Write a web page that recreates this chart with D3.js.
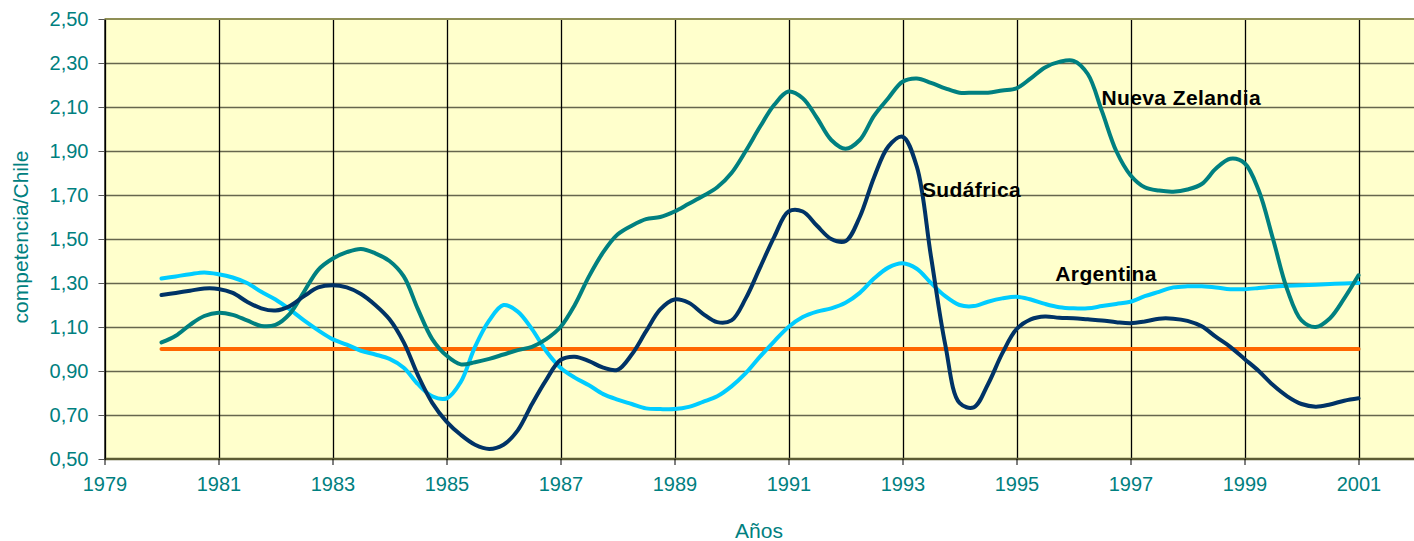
<!DOCTYPE html>
<html>
<head>
<meta charset="utf-8">
<script src="https://cdn.jsdelivr.net/npm/d3@7"></script>
<style>
  body { margin: 0; background: #fff; }
  svg text { font-family: "Liberation Sans", Arial, sans-serif; }
</style>
</head>
<body>
<script>
const w = 1414;
const h = 541;
const plotLeft = 104.5, plotTop = 19, plotBottom = 459;

// quarterly observations, first one is 1980 Q1, last one 2001 Q1
const startYear = 1980;
const nuevaZelandia = [
  1.03, 1.06, 1.11, 1.15, 1.165, 1.155, 1.13, 1.105, 1.11, 1.16, 1.26, 1.36,
  1.41, 1.44, 1.455, 1.435, 1.40, 1.33, 1.18, 1.045, 0.97, 0.93, 0.94, 0.955,
  0.975, 0.995, 1.01, 1.045, 1.10, 1.20, 1.33, 1.44, 1.52, 1.56, 1.59, 1.60,
  1.625, 1.66, 1.695, 1.735, 1.80, 1.90, 2.01, 2.11, 2.17, 2.14, 2.05, 1.95,
  1.91, 1.95, 2.06, 2.14, 2.215, 2.23, 2.21, 2.185, 2.165, 2.165, 2.165, 2.175,
  2.185, 2.23, 2.28, 2.305, 2.31, 2.25, 2.08, 1.90, 1.79, 1.735, 1.72, 1.715,
  1.725, 1.75, 1.82, 1.865, 1.845, 1.72, 1.50, 1.27, 1.13, 1.10, 1.14, 1.23,
  1.335
];
const argentina = [
  1.32, 1.33, 1.34, 1.348, 1.34, 1.325, 1.30, 1.26, 1.225, 1.18, 1.13, 1.085,
  1.045, 1.02, 0.992, 0.975, 0.955, 0.915, 0.84, 0.785, 0.775, 0.85, 1.01, 1.13,
  1.20, 1.17, 1.09, 0.99, 0.915, 0.87, 0.835, 0.795, 0.77, 0.75, 0.73, 0.727,
  0.727, 0.737, 0.76, 0.785, 0.83, 0.89, 0.965, 1.035, 1.10, 1.145, 1.17, 1.185,
  1.21, 1.255, 1.32, 1.37, 1.39, 1.365, 1.30, 1.24, 1.20, 1.195, 1.215, 1.23,
  1.238, 1.225, 1.205, 1.19, 1.185, 1.185, 1.195, 1.205, 1.215, 1.24, 1.26, 1.28,
  1.285, 1.285, 1.28, 1.272, 1.272, 1.277, 1.283, 1.287, 1.29, 1.292, 1.295, 1.298,
  1.30
];
const sudafrica = [
  1.245, 1.255, 1.265, 1.275, 1.273, 1.255, 1.215, 1.185, 1.175, 1.195, 1.24, 1.28,
  1.29, 1.28, 1.25, 1.20, 1.135, 1.03, 0.88, 0.755, 0.67, 0.61, 0.565, 0.546,
  0.565, 0.63, 0.75, 0.86, 0.95, 0.965, 0.945, 0.915, 0.905, 0.975, 1.08, 1.18,
  1.225, 1.21, 1.16, 1.122, 1.13, 1.23, 1.37, 1.51, 1.625, 1.625, 1.56, 1.50,
  1.49, 1.60, 1.78, 1.92, 1.965, 1.83, 1.42, 1.02, 0.755, 0.735, 0.84, 0.98,
  1.09, 1.135, 1.148, 1.142, 1.14, 1.135, 1.13, 1.122, 1.117, 1.125, 1.138, 1.138,
  1.128, 1.103, 1.055, 1.01, 0.955, 0.90, 0.836, 0.785, 0.75, 0.738, 0.748, 0.765,
  0.776
];
const chile = [1.00, 1.00];
const chileYears = [1980, 2001];

const xTicks = [1979, 1981, 1983, 1985, 1987, 1989, 1991, 1993, 1995, 1997, 1999, 2001];
const yTicks = [0.5, 0.7, 0.9, 1.1, 1.3, 1.5, 1.7, 1.9, 2.1, 2.3, 2.5];

const labels = [
  { text: "Nueva Zelandia", year: 1996.49, value: 2.11 },
  { text: "Sudáfrica", year: 1993.34, value: 1.692 },
  { text: "Argentina", year: 1995.68, value: 1.311 }
];

const teal = "#008080";

const xScale = d3.scaleLinear().domain([1979, 2002]).range([plotLeft, plotLeft + 23 * 57]);
const yScale = d3.scaleLinear().domain([0.5, 2.5]).range([plotBottom, plotTop]);

const svg = d3.select("body").append("svg")
  .attr("width", w)
  .attr("height", h);

// plot background
svg.append("rect")
  .attr("x", xScale(1979))
  .attr("y", yScale(2.5))
  .attr("width", xScale(2002) - xScale(1979))
  .attr("height", yScale(0.5) - yScale(2.5))
  .attr("fill", "#ffffcc");

// horizontal grid
svg.append("g")
  .selectAll("line")
  .data(yTicks.slice(1, -1))
  .enter()
  .append("line")
  .attr("x1", xScale(1979))
  .attr("x2", xScale(2002))
  .attr("y1", (d) => Math.round(yScale(d)) + 0.5)
  .attr("y2", (d) => Math.round(yScale(d)) + 0.5)
  .attr("stroke", "#66664d")
  .attr("stroke-width", 1.3);

// vertical grid
svg.append("g")
  .selectAll("line")
  .data(xTicks)
  .enter()
  .append("line")
  .attr("x1", (d) => Math.round(xScale(d)) + 0.5)
  .attr("x2", (d) => Math.round(xScale(d)) + 0.5)
  .attr("y1", yScale(2.5))
  .attr("y2", yScale(0.5))
  .attr("stroke", "#000")
  .attr("stroke-width", 1.3);

// top border
svg.append("line")
  .attr("x1", xScale(1979)).attr("x2", w)
  .attr("y1", yScale(2.5)).attr("y2", yScale(2.5))
  .attr("stroke", "#8f8f55")
  .attr("stroke-width", 2);

// axes
const xAxis = d3.axisBottom(xScale).tickValues(xTicks).tickFormat(d3.format("d")).tickSize(6).tickSizeOuter(0);
const yAxis = d3.axisLeft(yScale).tickValues(yTicks).tickFormat((d) => d3.format(".2f")(d).replace(".", ",")).tickSize(6).tickSizeOuter(0);

const gx = svg.append("g")
  .attr("transform", "translate(0," + plotBottom + ")")
  .call(xAxis);
gx.select(".domain").attr("stroke", "#5c5c33").attr("stroke-width", 2.5)
  .attr("d", "M" + xScale(1979) + ",0H" + w);
gx.selectAll(".tick line").attr("stroke", "#000");
gx.selectAll(".tick text")
  .attr("fill", teal)
  .attr("font-size", "20px")
  .attr("y", 18);

const gy = svg.append("g")
  .attr("transform", "translate(" + plotLeft + ",0)")
  .call(yAxis);
gy.select(".domain").attr("stroke", "#000").attr("stroke-width", 1.3);
gy.selectAll(".tick line").attr("stroke", "#555");
gy.selectAll(".tick text")
  .attr("fill", teal)
  .attr("font-size", "20px")
  .attr("x", -16);

// axis titles
svg.append("text")
  .text("Años")
  .attr("x", 759)
  .attr("y", 538)
  .attr("text-anchor", "middle")
  .attr("font-size", "21px")
  .attr("fill", teal);

svg.append("text")
  .text("competencia/Chile")
  .attr("transform", "translate(28,237) rotate(-90)")
  .attr("text-anchor", "middle")
  .attr("font-size", "21px")
  .attr("fill", teal);

// lines
const quarterLine = d3.line()
  .x((d, i) => xScale(startYear + i / 4))
  .y((d) => yScale(d))
  .curve(d3.curveCatmullRom.alpha(0.5));

const series = [
  { values: argentina, color: "#00ccff" },
  { values: nuevaZelandia, color: "#008080" },
  { values: sudafrica, color: "#003366" }
];

svg.append("line")
  .attr("x1", xScale(chileYears[0]))
  .attr("x2", xScale(chileYears[1]))
  .attr("y1", yScale(chile[0]))
  .attr("y2", yScale(chile[1]))
  .attr("stroke", "#ff6600")
  .attr("stroke-width", 4)
  .attr("stroke-linecap", "round");

svg.selectAll("path.serie")
  .data(series)
  .enter()
  .append("path")
  .attr("class", "serie")
  .attr("d", (d) => quarterLine(d.values))
  .attr("fill", "none")
  .attr("stroke", (d) => d.color)
  .attr("stroke-width", 4)
  .attr("stroke-linejoin", "round")
  .attr("stroke-linecap", "round");

// series labels
svg.selectAll("text.label")
  .data(labels)
  .enter()
  .append("text")
  .attr("class", "label")
  .text((d) => d.text)
  .attr("x", (d) => xScale(d.year))
  .attr("y", (d) => yScale(d.value))
  .attr("font-size", "21px")
  .attr("font-weight", "bold")
  .attr("letter-spacing", "0.4px")
  .attr("fill", "#000");
</script>
</body>
</html>
